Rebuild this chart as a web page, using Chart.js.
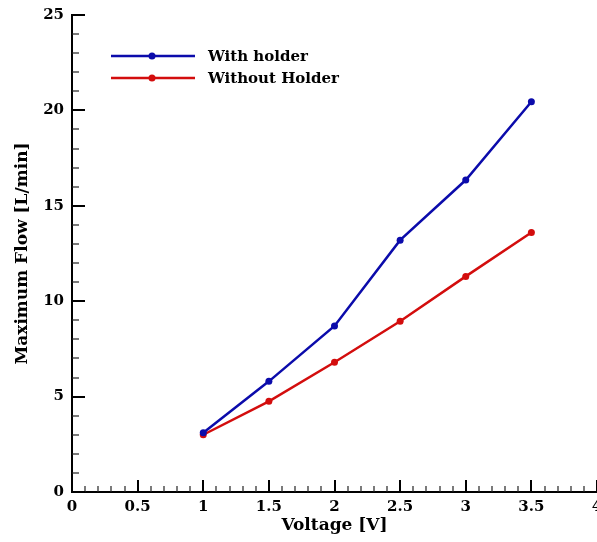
<!DOCTYPE html>
<html>
<head>
<meta charset="utf-8">
<script src="https://cdn.jsdelivr.net/npm/chart.js@4"></script>
<style>
  html, body { margin: 0; padding: 0; background: #fff; overflow: hidden; }
  #wrap { width: 601px; height: 542px; }
</style>
</head>
<body>
<div id="wrap"><canvas id="flowChart"></canvas></div>
<script>
// Data
const voltages = [1, 1.5, 2, 2.5, 3, 3.5];
const withHolder = [3.1, 5.8, 8.7, 13.2, 16.35, 20.45];
const withoutHolder = [3.0, 4.75, 6.8, 8.95, 11.3, 13.6];
const seriesLabels = ['With holder', 'Without Holder'];

const BLUE = '#0b0bab';
const RED = '#d30d0d';
const FONT = '"DejaVu Serif", serif';

/**
 * Inward major/minor ticks, like the original plotting tool draws them.
 */
const inwardTicks = {
    id: 'inwardTicks',
    afterDraw(chart) {
        const ctx = chart.ctx;
        const x = chart.scales.x;
        const y = chart.scales.y;
        const bottom = y.getPixelForValue(0);
        const left = x.getPixelForValue(0);
        ctx.save();

        // x axis
        for (let i = 0; i <= 40; i++) {
            const px = Math.round(x.getPixelForValue(i / 10));
            const major = i % 5 === 0;
            ctx.lineWidth = major ? 2 : 1.2;
            ctx.strokeStyle = major ? '#000' : '#222';
            ctx.beginPath();
            ctx.moveTo(px, bottom);
            ctx.lineTo(px, bottom - (major ? 12 : 6));
            ctx.stroke();
        }

        // y axis
        for (let i = 0; i <= 25; i++) {
            const py = Math.round(y.getPixelForValue(i));
            const major = i % 5 === 0;
            ctx.lineWidth = major ? 2 : 1.2;
            ctx.strokeStyle = major ? '#000' : '#222';
            ctx.beginPath();
            ctx.moveTo(left, py);
            ctx.lineTo(left + (major ? 13 : 7), py);
            ctx.stroke();
        }
        ctx.restore();
    }
};

/**
 * Legend placed inside the plot, top left.
 */
const innerLegend = {
    id: 'innerLegend',
    afterDraw(chart) {
        const ctx = chart.ctx;
        ctx.save();
        ctx.font = 'bold 15px ' + FONT;
        ctx.textBaseline = 'middle';
        chart.data.datasets.forEach((ds, i) => {
            const yPos = 56 + i * 22;
            ctx.strokeStyle = ds.borderColor;
            ctx.fillStyle = ds.borderColor;
            ctx.lineWidth = 2.5;
            ctx.beginPath();
            ctx.moveTo(111, yPos);
            ctx.lineTo(195, yPos);
            ctx.stroke();
            ctx.beginPath();
            ctx.arc(152, yPos, 3.5, 0, Math.PI * 2);
            ctx.fill();
            ctx.fillStyle = '#000';
            ctx.fillText(ds.label, 208, yPos + 1);
        });
        ctx.restore();
    }
};

function init() {
    const ctx = document.getElementById('flowChart').getContext('2d');
    new Chart(ctx, {
        type: 'line',
        data: {
            labels: voltages,
            datasets: [{
                label: seriesLabels[0],
                data: voltages.map((v, i) => ({ x: v, y: withHolder[i] })),
                borderColor: BLUE,
                backgroundColor: BLUE,
                borderWidth: 2.5,
                pointRadius: 3.5,
                pointBorderWidth: 0,
                tension: 0
            }, {
                label: seriesLabels[1],
                data: voltages.map((v, i) => ({ x: v, y: withoutHolder[i] })),
                borderColor: RED,
                backgroundColor: RED,
                borderWidth: 2.5,
                pointRadius: 3.5,
                pointBorderWidth: 0,
                tension: 0
            }]
        },
        options: {
            responsive: true,
            maintainAspectRatio: false,
            animation: false,
            layout: {
                padding: { top: 15, right: 0, bottom: 0, left: 0 }
            },
            plugins: {
                legend: { display: false },
                tooltip: { enabled: false }
            },
            scales: {
                x: {
                    type: 'linear',
                    min: 0,
                    max: 4,
                    border: { color: '#000', width: 2 },
                    grid: { display: false, drawTicks: false },
                    ticks: {
                        stepSize: 0.5,
                        padding: 6,
                        color: '#000',
                        maxRotation: 0,
                        font: { family: FONT, size: 15, weight: 'bold' },
                        callback: (value) => String(value)
                    },
                    title: {
                        display: true,
                        text: 'Voltage [V]',
                        color: '#000',
                        padding: { top: 0, bottom: 6 },
                        font: { family: FONT, size: 17, weight: 'bold' }
                    },
                    afterFit(scale) {
                        scale.height = 50;
                        scale.paddingLeft = 0;
                        scale.paddingRight = 0;
                    }
                },
                y: {
                    min: 0,
                    max: 25,
                    border: { color: '#000', width: 2 },
                    grid: { display: false, drawTicks: false },
                    ticks: {
                        stepSize: 5,
                        padding: 8,
                        color: '#000',
                        font: { family: FONT, size: 15, weight: 'bold' },
                        callback: (value) => String(value)
                    },
                    title: {
                        display: true,
                        text: 'Maximum Flow [L/min]',
                        color: '#000',
                        padding: { top: 12, bottom: 0 },
                        font: { family: FONT, size: 17, weight: 'bold' }
                    },
                    afterFit(scale) {
                        scale.width = 72;
                        scale.paddingTop = 0;
                        scale.paddingBottom = 0;
                    }
                }
            }
        },
        plugins: [inwardTicks, innerLegend]
    });
}

if (document.readyState === 'loading') {
    document.addEventListener('DOMContentLoaded', init);
} else {
    init();
}
</script>
</body>
</html>
